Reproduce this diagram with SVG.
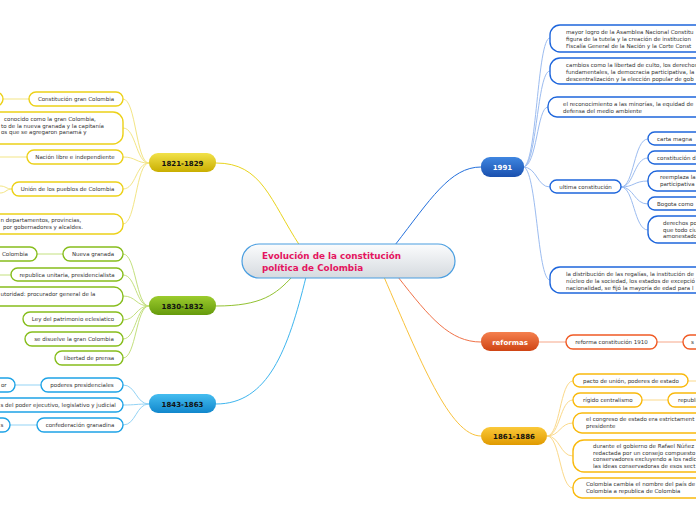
<svg xmlns="http://www.w3.org/2000/svg" width="696" height="520" viewBox="0 0 696 520">
<defs>
<linearGradient id="gC" x1="0" y1="0" x2="0" y2="1"><stop offset="0" stop-color="#fbfcfd"/><stop offset="1" stop-color="#d5dadf"/></linearGradient>
<linearGradient id="gY" x1="0" y1="0" x2="0" y2="1"><stop offset="0" stop-color="#f2e24a"/><stop offset="1" stop-color="#c9ae00"/></linearGradient>
<linearGradient id="gG" x1="0" y1="0" x2="0" y2="1"><stop offset="0" stop-color="#9ccc2e"/><stop offset="1" stop-color="#659a0c"/></linearGradient>
<linearGradient id="gB" x1="0" y1="0" x2="0" y2="1"><stop offset="0" stop-color="#45bdf0"/><stop offset="1" stop-color="#1187cc"/></linearGradient>
<linearGradient id="gD" x1="0" y1="0" x2="0" y2="1"><stop offset="0" stop-color="#3f86e0"/><stop offset="1" stop-color="#1a50ae"/></linearGradient>
<linearGradient id="gR" x1="0" y1="0" x2="0" y2="1"><stop offset="0" stop-color="#f5804e"/><stop offset="1" stop-color="#cf4414"/></linearGradient>
<linearGradient id="gO" x1="0" y1="0" x2="0" y2="1"><stop offset="0" stop-color="#fbc93a"/><stop offset="1" stop-color="#e09a00"/></linearGradient>
</defs>
<style>
text{font-family:"DejaVu Sans",Verdana,sans-serif;}
.t{font-size:5.5px;fill:#333;}
.m{font-size:7px;font-weight:bold;}
.c{fill:#fff;stroke-width:1.4;}
.cy{stroke:#ecd118;} .cg{stroke:#86bd1c;} .cb{stroke:#1ea3e6;} .cd{stroke:#1e66dc;} .cr{stroke:#f05a24;} .co{stroke:#f9b90c;}
.l{fill:none;stroke-width:1;}
.ly{stroke:#f3e585;} .lg{stroke:#c3e07e;} .lb{stroke:#93d3f5;} .ld{stroke:#9cbcf0;} .lr{stroke:#f6a789;} .lo{stroke:#fbd98a;}
</style>
<g id="connectors">
<path class="l" stroke="#e9d41e" stroke-width="1.3" d="M216,163 C262,163 270,200 300,246"/>
<path class="l" stroke="#93c232" stroke-width="1.3" d="M216,306 C262,306 276,294 292,277"/>
<path class="l" stroke="#3eb5ee" stroke-width="1.3" d="M216,404 C268,404 288,350 306,277"/>
<path class="l" stroke="#2470dc" stroke-width="1.3" d="M395,245 C430,200 450,167 481,167"/>
<path class="l" stroke="#f07248" stroke-width="1.3" d="M398,277 C430,318 450,342 481,342"/>
<path class="l" stroke="#f9c23c" stroke-width="1.3" d="M384,277 C420,360 450,436 481,436"/>
<path class="l ly" d="M149,163 C136,163 136,99 123,99"/>
<path class="l ly" d="M149,163 C136,163 136,128 123,128"/>
<path class="l ly" d="M149,163 C136,163 136,157 123,157"/>
<path class="l ly" d="M149,163 C136,163 136,189 123,189"/>
<path class="l ly" d="M149,163 C136,163 136,224 123,224"/>
<path class="l ly" d="M29,99 L3,99"/>
<path class="l ly" d="M27,157 L0,157"/>
<path class="l ly" d="M12,189 C6,189 6,186 0,186"/>
<path class="l ly" d="M12,189 C6,189 6,193 0,193"/>
<path class="l lg" d="M149,306 C136,306 136,254 123,254"/>
<path class="l lg" d="M149,306 C136,306 136,275 123,275"/>
<path class="l lg" d="M149,306 C136,306 136,296 123,296"/>
<path class="l lg" d="M149,306 C136,306 136,320 123,320"/>
<path class="l lg" d="M149,306 C136,306 136,339 123,339"/>
<path class="l lg" d="M149,306 C136,306 136,358 123,358"/>
<path class="l lg" d="M63,254 L37,254"/>
<path class="l lg" d="M11,275 L0,275"/>
<path class="l lb" d="M149,404 C136,404 136,385 123,385"/>
<path class="l lb" d="M149,404 C136,404 136,405 123,405"/>
<path class="l lb" d="M149,404 C136,404 136,425 123,425"/>
<path class="l lb" d="M41,385 L15,385"/>
<path class="l lb" d="M37,425 L10,425"/>
<path class="l ld" d="M523,167 C537,167 537,38 550,38"/>
<path class="l ld" d="M523,167 C537,167 537,71 550,71"/>
<path class="l ld" d="M523,167 C537,167 537,107 548,107"/>
<path class="l ld" d="M523,167 C537,167 537,187 550,187"/>
<path class="l ld" d="M523,167 C537,167 537,280 550,280"/>
<path class="l ld" d="M621,187 C634,187 634,139 648,139"/>
<path class="l ld" d="M621,187 C634,187 634,158 648,158"/>
<path class="l ld" d="M621,187 C634,187 634,181 648,181"/>
<path class="l ld" d="M621,187 C634,187 634,204 648,204"/>
<path class="l ld" d="M621,187 C634,187 634,230 648,230"/>
<path class="l lr" d="M539,342 L566,342"/>
<path class="l lr" d="M657,342 L683,342"/>
<path class="l lo" d="M547,436 C560,436 560,381 573,381"/>
<path class="l lo" d="M547,436 C560,436 560,400 573,400"/>
<path class="l lo" d="M547,436 C560,436 560,423 573,423"/>
<path class="l lo" d="M547,436 C560,436 560,456 573,456"/>
<path class="l lo" d="M547,436 C560,436 560,488 573,488"/>
<path class="l lo" d="M688,381 L696,381"/>
<path class="l lo" d="M642,400 L668,400"/>
</g>
<g id="central">
<rect x="242" y="244" width="213" height="34" rx="17" fill="url(#gC)" stroke="#4a9ee0" stroke-width="1.2"/>
<text x="262" y="259" font-size="8.8" font-weight="bold" fill="#e4155f">Evolución de la constitución</text>
<text x="262" y="271" font-size="8.8" font-weight="bold" fill="#e4155f">política de Colombia</text>
</g>
<g id="n1821">
<rect x="149" y="153" width="67" height="19" rx="9" fill="url(#gY)"/>
<text class="m" x="182.5" y="165.5" text-anchor="middle" fill="#111">1821-1829</text>
</g>
<g id="n1821a"><rect class="c cy" x="-60" y="92" width="63" height="14" rx="7"/></g>
<g id="n1821b"><rect class="c cy" x="29" y="92" width="94" height="14" rx="7"/><text class="t" x="76" y="101" text-anchor="middle">Constitución gran Colombia</text></g>
<g id="n1821c"><rect class="c cy" x="-80" y="112" width="203" height="32" rx="10"/>
<text class="t" x="4" y="121">conocido como la gran Colombia,</text>
<text class="t" x="1" y="127.5">to de la nueva granada y la capitanía</text>
<text class="t" x="1" y="134">os que se agregaron panamá y</text></g>
<g id="n1821d"><rect class="c cy" x="27" y="150" width="96" height="14" rx="7"/><text class="t" x="75" y="159" text-anchor="middle">Nación libre e independiente</text></g>
<g id="n1821e"><rect class="c cy" x="12" y="182" width="111" height="14" rx="7"/><text class="t" x="67.5" y="191" text-anchor="middle">Unión de los pueblos de Colombia</text></g>
<g id="n1821f"><rect class="c cy" x="-80" y="214" width="203" height="20" rx="9"/>
<text class="t" x="0.5" y="222">n departamentos, provincias,</text>
<text class="t" x="3" y="229">por gobernadores y alcaldes.</text></g>
<g id="n1830">
<rect x="149" y="296" width="67" height="19" rx="9" fill="url(#gG)"/>
<text class="m" x="182.5" y="308.5" text-anchor="middle" fill="#111">1830-1832</text>
</g>
<g id="n1830a"><rect class="c cg" x="-40" y="247" width="77" height="14" rx="7"/><text class="t" x="2" y="256">Colombia</text></g>
<g id="n1830b"><rect class="c cg" x="63" y="247" width="60" height="14" rx="7"/><text class="t" x="93" y="256" text-anchor="middle">Nueva granada</text></g>
<g id="n1830c"><rect class="c cg" x="11" y="268" width="112" height="13" rx="6.5"/><text class="t" x="67" y="276.5" text-anchor="middle">republica unitaria, presidencialista</text></g>
<g id="n1830d"><rect class="c cg" x="-80" y="287" width="203" height="19" rx="9"/><text class="t" x="0.5" y="296">utoridad: procurador general de la</text></g>
<g id="n1830e"><rect class="c cg" x="23" y="312" width="100" height="14" rx="7"/><text class="t" x="73" y="321" text-anchor="middle">Ley del patrimonio eclesiatico</text></g>
<g id="n1830f"><rect class="c cg" x="25" y="332" width="98" height="14" rx="7"/><text class="t" x="74" y="341" text-anchor="middle">se disuelve la gran Colombia</text></g>
<g id="n1830g"><rect class="c cg" x="55" y="351" width="68" height="14" rx="7"/><text class="t" x="89" y="360" text-anchor="middle">libertad de prensa</text></g>
<g id="n1843">
<rect x="149" y="394" width="67" height="19" rx="9" fill="url(#gB)"/>
<text class="m" x="182.5" y="406.5" text-anchor="middle" fill="#111">1843-1863</text>
</g>
<g id="n1843a"><rect class="c cb" x="-60" y="378" width="75" height="14" rx="7"/><text class="t" x="1" y="387">or</text></g>
<g id="n1843b"><rect class="c cb" x="41" y="378" width="82" height="14" rx="7"/><text class="t" x="82" y="387" text-anchor="middle">poderes presidenciales</text></g>
<g id="n1843c"><rect class="c cb" x="-80" y="398" width="203" height="14" rx="7"/><text class="t" x="0.5" y="407">s del poder ejecutivo, legislativo y judicial</text></g>
<g id="n1843d"><rect class="c cb" x="-60" y="418" width="70" height="14" rx="7"/><text class="t" x="0.5" y="427">s</text></g>
<g id="n1843e"><rect class="c cb" x="37" y="418" width="86" height="14" rx="7"/><text class="t" x="80" y="427" text-anchor="middle">confederación granadina</text></g>
<g id="n1991">
<rect x="481" y="157" width="43" height="20" rx="9" fill="url(#gD)"/>
<text class="m" x="502.5" y="170" text-anchor="middle" fill="#fff">1991</text>
</g>
<g id="n1991a"><rect class="c cd" x="550" y="25" width="200" height="27" rx="10"/>
<text class="t" x="566" y="34">mayor logro de la Asamblea Nacional Constitu</text>
<text class="t" x="566" y="41">figura de la tutela y la creación de institucion</text>
<text class="t" x="566" y="48">Fiscalía General de la Nación y la Corte Const</text></g>
<g id="n1991b"><rect class="c cd" x="550" y="58" width="200" height="26" rx="10"/>
<text class="t" x="566" y="67">cambios como la libertad de culto, los derechos</text>
<text class="t" x="566" y="74">fundamentales, la democracia participativa, la</text>
<text class="t" x="566" y="81">descentralización y la elección popular de gob</text></g>
<g id="n1991c"><rect class="c cd" x="548" y="97" width="200" height="20" rx="9"/>
<text class="t" x="563" y="106">el reconocimiento a las minorías, la equidad de</text>
<text class="t" x="563" y="113">defensa del medio ambiente</text></g>
<g id="n1991d"><rect class="c cd" x="550" y="180" width="71" height="13" rx="6.5"/><text class="t" x="585.5" y="188.5" text-anchor="middle">ultima constitución</text></g>
<g id="n1991e"><rect class="c cd" x="648" y="132" width="80" height="13" rx="6.5"/><text class="t" x="657" y="141">carta magna</text></g>
<g id="n1991f"><rect class="c cd" x="648" y="151" width="80" height="13" rx="6.5"/><text class="t" x="657" y="160">constitución d</text></g>
<g id="n1991g"><rect class="c cd" x="648" y="171" width="80" height="20" rx="9"/>
<text class="t" x="660" y="179">reemplaza la</text>
<text class="t" x="660" y="186">participativa</text></g>
<g id="n1991h"><rect class="c cd" x="648" y="197" width="80" height="13" rx="6.5"/><text class="t" x="657" y="206">Bogota como</text></g>
<g id="n1991i"><rect class="c cd" x="648" y="216" width="80" height="27" rx="10"/>
<text class="t" x="663" y="225">derechos po</text>
<text class="t" x="663" y="231.5">que todo ciu</text>
<text class="t" x="663" y="238">amonestado</text></g>
<g id="n1991j"><rect class="c cd" x="550" y="267" width="200" height="26" rx="10"/>
<text class="t" x="566" y="276">la distribución de las regalías, la institución de</text>
<text class="t" x="566" y="283">núcleo de la sociedad, los estados de excepció</text>
<text class="t" x="566" y="290">nacionalidad, se fijó la mayoría de edad para l</text></g>
<g id="nref">
<rect x="481" y="332" width="58" height="19" rx="9" fill="url(#gR)"/>
<text class="m" x="510" y="344.5" text-anchor="middle" fill="#fff">reformas</text>
</g>
<g id="nrefa"><rect class="c cr" x="566" y="335" width="91" height="14" rx="7"/><text class="t" x="611.5" y="344" text-anchor="middle">reforma constitución 1910</text></g>
<g id="nrefb"><rect class="c cr" x="683" y="335" width="60" height="14" rx="7"/><text class="t" x="691" y="344">s</text></g>
<g id="n1861">
<rect x="481" y="427" width="66" height="18" rx="9" fill="url(#gO)"/>
<text class="m" x="514" y="439" text-anchor="middle" fill="#111">1861-1886</text>
</g>
<g id="n1861a"><rect class="c co" x="573" y="374" width="115" height="13" rx="6.5"/><text class="t" x="583" y="383">pacto de unión, poderes de estado</text></g>
<g id="n1861b"><rect class="c co" x="573" y="393" width="69" height="14" rx="7"/><text class="t" x="583" y="402">rígido centralismo</text></g>
<g id="n1861c"><rect class="c co" x="668" y="393" width="70" height="14" rx="7"/><text class="t" x="678" y="402">republi</text></g>
<g id="n1861d"><rect class="c co" x="573" y="413" width="180" height="20" rx="9"/>
<text class="t" x="586" y="421">el congreso de estado era estrictament</text>
<text class="t" x="586" y="428">presidente</text></g>
<g id="n1861e"><rect class="c co" x="573" y="440" width="180" height="32" rx="11"/>
<text class="t" x="593" y="448">durante el gobierno de Rafael Núñez</text>
<text class="t" x="593" y="454.5">redactada por un consejo compuesto</text>
<text class="t" x="593" y="461">conservadores excluyendo a los radic</text>
<text class="t" x="593" y="467.5">las ideas conservadoras de esos sect</text></g>
<g id="n1861f"><rect class="c co" x="573" y="478" width="180" height="20" rx="9"/>
<text class="t" x="586" y="486">Colombia cambia el nombre del país de</text>
<text class="t" x="586" y="493">Colombia a republica de Colombia</text></g>
</svg>
